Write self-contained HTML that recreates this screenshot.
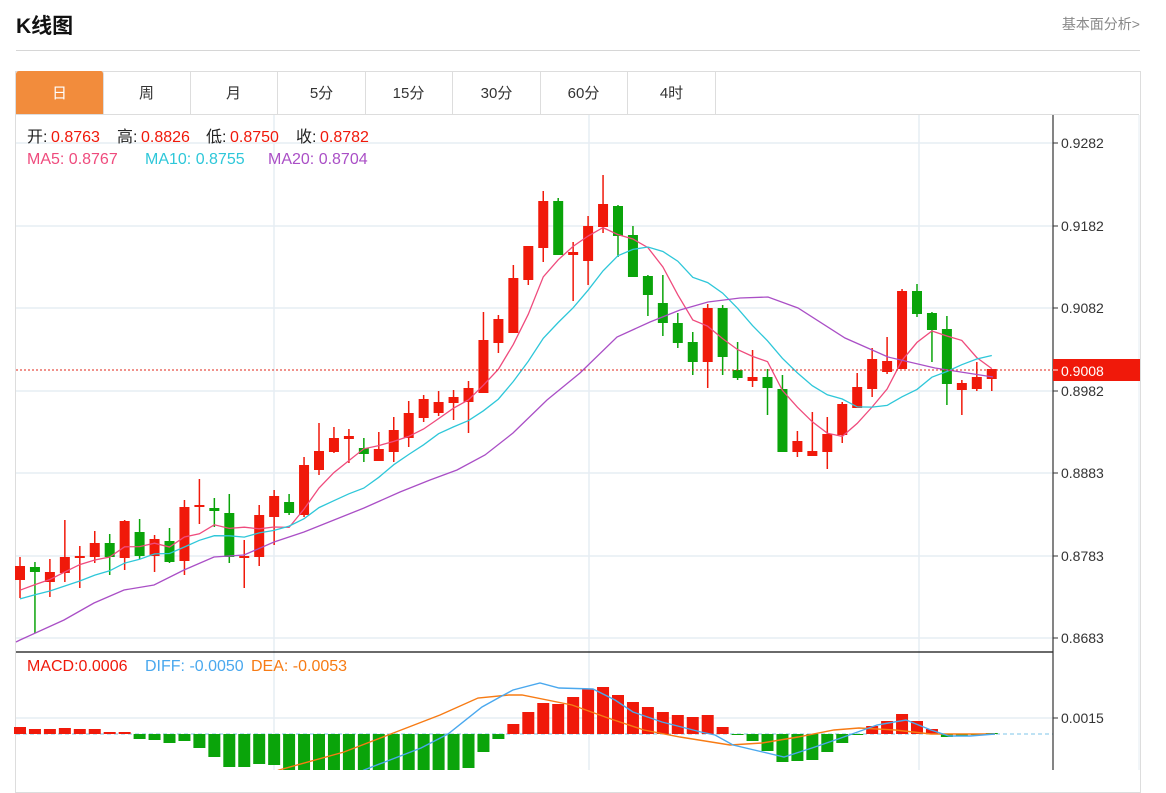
<!DOCTYPE html>
<html><head><meta charset="utf-8">
<style>
body{margin:0;background:#fff;width:1166px;height:770px;overflow:hidden;font-family:"Liberation Sans","Noto Sans CJK SC",sans-serif;}
.t{position:absolute;left:16px;top:10px;font-size:21px;font-weight:bold;color:#111;}
.r{position:absolute;right:26px;top:14px;font-size:14px;color:#888;}
.hl{position:absolute;left:16px;top:50px;width:1124px;height:1px;background:#d6d6d6;}
.box{position:absolute;left:15px;top:71px;width:1124px;height:720px;border:1px solid #ddd;}
.tabs{position:absolute;left:15px;top:71px;height:44px;}
.tab{position:absolute;top:0;height:43px;width:87px;border-right:1px solid #ddd;border-bottom:1px solid #ddd;text-align:center;line-height:45px;font-size:15px;color:#333;}
.tab.a{background:#f28c3c;color:#fff;border-radius:3px 3px 0 0;}
svg{position:absolute;left:0;top:0;}
</style></head><body>
<div class="t">K线图</div>
<div class="r">基本面分析&gt;</div>
<div class="hl"></div>
<div class="box"></div>
<div class="tabs">
<div class="tab a" style="left:1px">日</div>
<div class="tab" style="left:88px">周</div>
<div class="tab" style="left:175px">月</div>
<div class="tab" style="left:263px">5分</div>
<div class="tab" style="left:350px">15分</div>
<div class="tab" style="left:438px">30分</div>
<div class="tab" style="left:525px">60分</div>
<div class="tab" style="left:613px">4时</div>
<div style="position:absolute;left:700px;top:43px;width:424px;height:1px;background:#ddd"></div>
</div>
<svg id="s" width="1166" height="770" xmlns="http://www.w3.org/2000/svg" font-family="Liberation Sans, Noto Sans CJK SC, sans-serif"></svg>
<script>
var C=[[580,566,557,598],[567,572,562,633],[582,572,559,597],[573,557,520,582],[558,556,546,588],[557,543,531,563],[543,557,534,575],[558,521,520,570],[532,556,519,559],[556,539,535,572],[541,562,528,563],[561,507,500,575],[507,505,479,524],[508,511,498,527],[513,557,494,563],[557,556,540,588],[557,515,505,566],[517,496,490,545],[502,513,494,515],[515,465,457,517],[470,451,423,475],[452,438,427,453],[439,436,429,463],[448,454,438,462],[461,449,432,461],[452,430,417,462],[438,413,401,447],[418,399,395,422],[413,402,391,416],[403,397,390,420],[402,388,381,433],[393,340,312,393],[343,319,315,353],[333,278,265,333],[280,246,246,285],[248,201,191,262],[201,255,198,255],[255,252,242,301],[261,226,216,285],[227,204,175,233],[206,236,205,257],[235,277,226,277],[276,295,275,316],[303,323,275,336],[323,343,313,348],[342,362,332,375],[362,308,304,388],[308,357,305,375],[370,378,342,380],[381,377,350,387],[377,388,369,415],[389,452,375,452],[452,441,431,457],[456,451,412,456],[452,434,417,469],[435,404,402,443],[408,387,373,408],[389,359,348,397],[372,361,337,374],[369,291,289,369],[291,314,284,317],[313,330,312,362],[329,384,316,405],[390,383,380,415],[389,377,362,391],[379,369,369,391]];
var H=[7,5,5,6,5,5,2,2,-5,-6,-9,-7,-14,-23,-33,-33,-30,-31,-40,-40,-40,-40,-40,-40,-40,-40,-40,-40,-40,-40,-34,-18,-5,10,22,31,30,37,45,47,39,32,27,22,19,17,19,7,-1,-7,-17,-28,-27,-26,-18,-9,-1,8,13,20,13,5,-3,-2,-1,0];
var RED="#f0190a",GRN="#0aa40a";
var o='';
function X(i){return 20+14.95*i;}
[143,226,308,391,473,556,638,718].forEach(function(y){o+='<line x1="16" x2="1053" y1="'+y+'" y2="'+y+'" stroke="#e6edf3" stroke-width="1.5"/>';});
[274,589,919].forEach(function(x){o+='<line x1="'+x+'" x2="'+x+'" y1="115" y2="770" stroke="#e6edf3" stroke-width="1.5"/>';});
o+='<line x1="1139" x2="1139" y1="115" y2="770" stroke="#e6edf3"/>';
C.forEach(function(c,i){var x=X(i),up=c[1]<c[0],col=up?RED:GRN,t=Math.min(c[0],c[1]),b=Math.max(c[0],c[1]);if(b-t<2){b=t+2;}
o+='<line x1="'+x+'" x2="'+x+'" y1="'+c[2]+'" y2="'+c[3]+'" stroke="'+col+'" stroke-width="1.5"/>';
o+='<rect x="'+(x-5)+'" y="'+t+'" width="10" height="'+(b-t)+'" fill="'+col+'"/>';});
var cl=[];for(var k=19;k>=1;k--)cl.push(590+2.5*k);C.forEach(function(c){cl.push(c[1]);});
function ma(n,col){var p=[];for(var i=0;i<C.length;i++){var s=0;for(var j=0;j<n;j++)s+=cl[i+19-j];p.push(X(i).toFixed(1)+','+(s/n).toFixed(1));}
o+='<polyline points="'+p.join(' ')+'" fill="none" stroke="'+col+'" stroke-width="1.3"/>';}
ma(5,"#ef4b7d");ma(10,"#2ec7d9");
o+='<polyline points="16,642 20,640 64,620 94,603 124,590 154,585 184,570 214,557 244,555 274,542 304,532 334,520 364,508 400,492 430,480 457,470 485,455 513,433 547,400 580,373 617,337 650,322 680,310 708,302 740,298 768,297 798,308 845,338 888,357 935,368 993,377" fill="none" stroke="#aa4fc6" stroke-width="1.3"/>';
o+='<line x1="16" x2="1053" y1="370" y2="370" stroke="#e0251a" stroke-dasharray="2,2" stroke-width="1"/>';
o+='<line x1="16" x2="1053" y1="734" y2="734" stroke="#7cc4e8" stroke-dasharray="4,3" stroke-width="1"/>';
H.forEach(function(h,i){var x=X(i);if(h>0)o+='<rect x="'+(x-6)+'" y="'+(734-h)+'" width="12" height="'+h+'" fill="'+RED+'"/>';else if(h<0)o+='<rect x="'+(x-6)+'" y="734" width="12" height="'+(-h)+'" fill="'+GRN+'"/>';else o+='<rect x="'+(x-6)+'" y="733" width="12" height="1" fill="'+GRN+'"/>';});
o+='<polyline points="250,782 279,770 344,752 383,737 440,715 478,698 509,695 522,695 572,705 608,718 644,730 680,737 730,745 762,743 798,737 834,730 859,728 895,730 931,734 995,734" fill="none" stroke="#f77b14" stroke-width="1.4"/>';
o+='<polyline points="340,782 364,770 421,748 448,734 482,707 500,697 513,690 540,683 559,688 593,689 615,700 633,712 662,722 701,732 715,735 733,745 784,757 812,748 841,738 877,725 906,720 931,730 949,736 970,736 995,734" fill="none" stroke="#4aa8ee" stroke-width="1.4"/>';
o+='<line x1="16" x2="1053" y1="652" y2="652" stroke="#111" stroke-width="1.2"/>';
o+='<line x1="1053" x2="1053" y1="115" y2="770" stroke="#333" stroke-width="1.2"/>';
[[143,'0.9282'],[226,'0.9182'],[308,'0.9082'],[391,'0.8982'],[473,'0.8883'],[556,'0.8783'],[638,'0.8683'],[718,'0.0015']].forEach(function(a){
o+='<line x1="1053" x2="1058" y1="'+a[0]+'" y2="'+a[0]+'" stroke="#333"/><text x="1061" y="'+(a[0]+5)+'" font-size="14" fill="#333">'+a[1]+'</text>';});
o+='<rect x="1053" y="359" width="87" height="22" fill="#f0190a"/><line x1="1053" x2="1058" y1="370" y2="370" stroke="#fff"/><text x="1061" y="376" font-size="14" fill="#fff">0.9008</text>';
function lab(x,y,s,c){o+='<text x="'+x+'" y="'+y+'" font-size="16" fill="'+c+'">'+s+'</text>';}
lab(27,142,'开:','#222');lab(51,142,'0.8763','#f0190a');
lab(117,142,'高:','#222');lab(141,142,'0.8826','#f0190a');
lab(206,142,'低:','#222');lab(230,142,'0.8750','#f0190a');
lab(296,142,'收:','#222');lab(320,142,'0.8782','#f0190a');
lab(27,164,'MA5: 0.8767','#ef4b7d');lab(145,164,'MA10: 0.8755','#2ec7d9');lab(268,164,'MA20: 0.8704','#aa4fc6');
lab(27,671,'MACD:0.0006','#f0190a');lab(145,671,'DIFF: -0.0050','#4aa8ee');lab(251,671,'DEA: -0.0053','#f77b14');
document.getElementById('s').innerHTML=o;
</script>
</body></html>
